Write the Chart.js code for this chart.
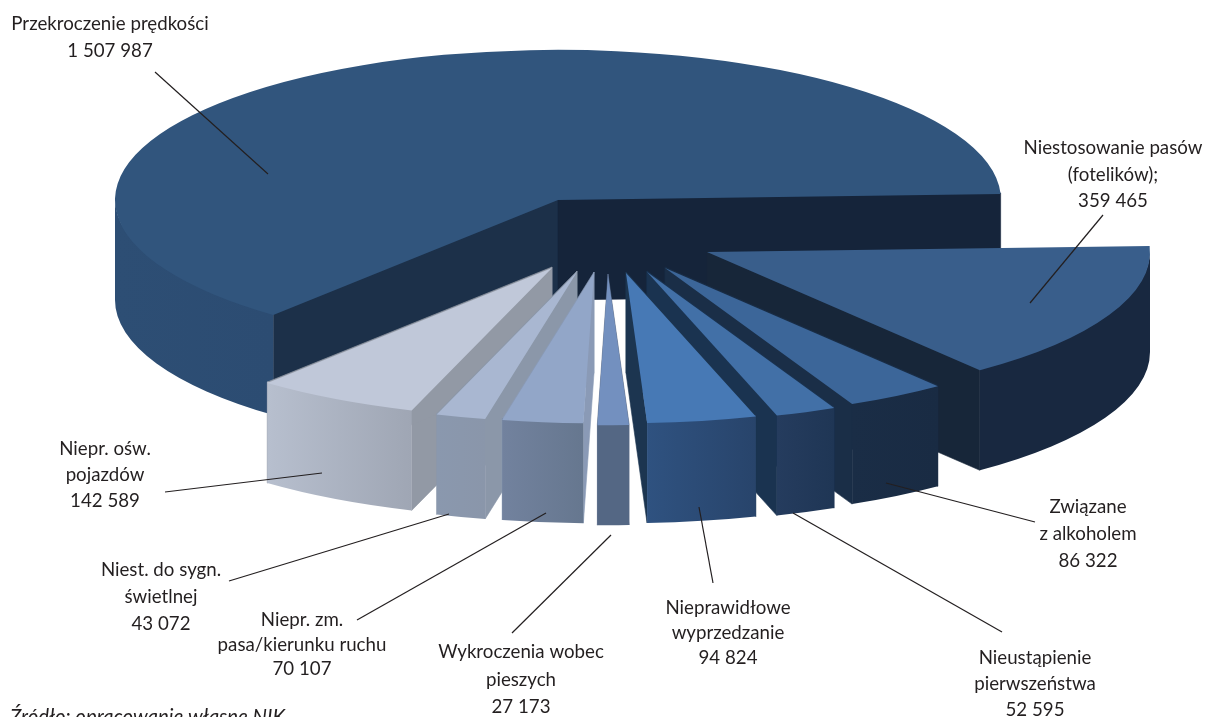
<!DOCTYPE html>
<html lang="pl">
<head>
<meta charset="utf-8">
<title>Wykroczenia</title>
<style>
html,body{margin:0;padding:0;background:#fff;overflow:hidden}
canvas{display:block}
</style>
<script src="https://cdn.jsdelivr.net/npm/chart.js@4"></script>
</head>
<body>
<canvas id="c" width="1205" height="717"></canvas>
<script>
const categories = ["Niestosowanie pasów (fotelików);","Związane z alkoholem","Nieustąpienie pierwszeństwa","Nieprawidłowe wyprzedzanie","Wykroczenia wobec pieszych","Niepr. zm. pasa/kierunku ruchu","Niest. do sygn. świetlnej","Niepr. ośw. pojazdów","Przekroczenie prędkości"];
const values = [359465,86322,52595,94824,27173,70107,43072,142589,1507987];

const topColors  = ["#395e8b","#3c6699","#4270a7","#4779b5","#7390bf","#92a6c8","#a9b7d1","#c0c8d9","#31557d"];
const wallLeft   = ["#182840","#1a2d46","#253c5e","#2f5280","#546784","#72829e","#8a98ae","#b7bfce","#2d4e74"];
const wallRight  = ["#182840","#192b43","#1f3655","#28446b","#546784","#66778f","#8a96aa","#9fa6b4","#2c4c72"];
const cutColors  = ["#172639","#1a2e47","#1a3350","#1c3550","#546784","#8a9ab6","#8b97a9","#9299a5","#1c3049"];
const cutColorsB = ["#172639","#1a2e47","#1a3350","#1c3550","#546784","#8a9ab6","#8b97a9","#9299a5","#15243a"];

const explodeX = [149,107,89,68,50,36,19,-6,0];
const explodeY = [52,68,72,73,75,73,72,68,0];
const paintOrder = [8,0,1,2,3,7,6,5,4];

const labelLines = [
  ["Niestosowanie pasów","(fotelików);","359 465"],
  ["Związane","z alkoholem","86 322"],
  ["Nieustąpienie","pierwszeństwa","52 595"],
  ["Nieprawidłowe","wyprzedzanie","94 824"],
  ["Wykroczenia wobec","pieszych","27 173"],
  ["Niepr. zm.","pasa/kierunku ruchu","70 107"],
  ["Niest. do sygn.","świetlnej","43 072"],
  ["Niepr. ośw.","pojazdów","142 589"],
  ["Przekroczenie prędkości","1 507 987"]
];
const labelX = [1113,1088,1035,728,521,302,161,105,110];
const labelY = [154,513,664,614,658,626,576,455,30];
const labelStep = [26.5,27,26,25,27.5,24.5,27,26,27];
const leaders = [
  [1103,215,1030,303],[1035,522,886,483],[1002,632,793,513],[713,583,699,507],
  [512,633,611,535],[357,620,546,513],[229,581,449,514],[165,492,322,473],[155,72,268,174]
];
const sourceNote = "Źródło: opracowanie własne NIK";

const CX = 558, CY = 200, RADIUS = 443, TILT = 0.339, DEPTH = 100;
const TEXT = "#231f20";
const FONT = "Lato";

const pie3d = {
  id: "pie3d",
  beforeDatasetsDraw(chart) {
    const ctx = chart.ctx;
    const arcs = chart.getDatasetMeta(0).data;
    paintOrder.forEach(i => {
      const el = arcs[i];
      const ox = CX + explodeX[i], oy = CY + explodeY[i];
      const a0 = el.startAngle, a1 = el.endAngle, r = el.outerRadius;
      const px = a => ox + r * Math.cos(a);
      const py = a => oy + r * TILT * Math.sin(a);
      const cut = (a, color) => {
        ctx.beginPath();
        ctx.moveTo(ox, oy - 1);
        ctx.lineTo(px(a), py(a) - 1);
        ctx.lineTo(px(a), py(a) + DEPTH);
        ctx.lineTo(ox, oy + DEPTH);
        ctx.closePath();
        ctx.fillStyle = color;
        ctx.fill();
        ctx.strokeStyle = color;
        ctx.lineWidth = 0.6;
        ctx.stroke();
      };
      if (a0 >= 0) cut(a0, cutColors[i]);
      cut(a1, cutColorsB[i]);
      const w0 = Math.max(a0, 0), w1 = Math.min(a1, Math.PI);
      if (w1 > w0) {
        const g = ctx.createLinearGradient(px(w1), 0, px(w0), 0);
        g.addColorStop(0, wallLeft[i]);
        g.addColorStop(1, wallRight[i]);
        ctx.beginPath();
        ctx.ellipse(ox, oy - 1.5, r, r * TILT, 0, w0, w1, false);
        ctx.ellipse(ox, oy + DEPTH, r, r * TILT, 0, w1, w0, true);
        ctx.closePath();
        ctx.fillStyle = g;
        ctx.fill();
      }
      ctx.save();
      ctx.translate(ox, oy);
      ctx.scale(1, TILT);
      ctx.translate(-el.x, -el.y);
      el.draw(ctx);
      ctx.restore();
    });

    ctx.save();
    ctx.strokeStyle = TEXT;
    ctx.lineWidth = 1.2;
    leaders.forEach(l => {
      ctx.beginPath();
      ctx.moveTo(l[0], l[1]);
      ctx.lineTo(l[2], l[3]);
      ctx.stroke();
    });
    ctx.fillStyle = TEXT;
    ctx.font = "18.7px " + FONT;
    ctx.textAlign = "center";
    ctx.textBaseline = "alphabetic";
    labelLines.forEach((lines, i) => {
      lines.forEach((t, j) => ctx.fillText(t, labelX[i], labelY[i] + j * labelStep[i]));
    });
    ctx.textAlign = "left";
    ctx.font = "italic 20.4px " + FONT;
    ctx.fillText(sourceNote, 10, 724);
    ctx.restore();
    return false;
  }
};

new Chart(document.getElementById("c"), {
  type: "pie",
  data: {
    labels: categories,
    datasets: [{ data: values, backgroundColor: topColors, borderWidth: 0, hoverOffset: 0 }]
  },
  options: {
    responsive: false,
    animation: false,
    rotation: 87.7,
    radius: RADIUS,
    plugins: { legend: { display: false }, tooltip: { enabled: false } }
  },
  plugins: [pie3d]
});
</script>
</body>
</html>
